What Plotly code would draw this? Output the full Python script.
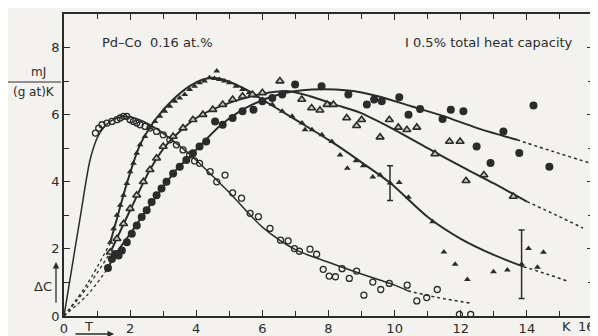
import plotly.graph_objects as go

# ---------------- data (T in K, Delta C in mJ/(g at)K) ----------------
# open circles
D_T = [0.95, 1.05, 1.15, 1.3, 1.45, 1.6, 1.7, 1.8, 1.9, 2.0, 2.1, 2.2, 2.3, 2.45, 2.6, 2.8, 3.0, 3.2, 3.4,
       3.6, 3.8, 3.95, 4.1, 4.42, 4.62, 4.87, 5.1, 5.37, 5.63, 5.88, 6.23, 6.55, 6.78, 6.97, 7.12, 7.44,
       7.64, 7.84, 8.02, 8.21, 8.41, 8.63, 8.85, 9.07, 9.34, 9.58, 9.84, 10.38, 10.67, 10.97, 11.29, 11.96, 12.3]
D_C = [5.45, 5.6, 5.7, 5.75, 5.8, 5.85, 5.9, 5.95, 5.95, 5.85, 5.8, 5.75, 5.7, 5.65, 5.6, 5.5, 5.4, 5.25, 5.1,
       4.95, 4.8, 4.62, 4.55, 4.3, 4.0, 4.2, 3.67, 3.51, 3.06, 2.96, 2.61, 2.26, 2.24, 2.01, 1.93, 1.99,
       1.84, 1.39, 1.19, 1.17, 1.41, 1.12, 1.34, 0.62, 1.01, 0.79, 0.97, 0.92, 0.45, 0.55, 0.79, 0.05, 0.05]

# filled triangles
A_T = [1.4, 1.5, 1.6, 1.7, 1.8, 1.9, 2.0, 2.1, 2.2, 2.3, 2.45, 2.6, 2.75, 2.9, 3.05, 3.2, 3.35, 3.5, 3.65,
       3.8, 3.95, 4.1, 4.25, 4.4, 4.55, 4.62, 4.7, 4.85, 5.0, 5.2, 5.4, 5.6, 5.8, 6.0, 6.3, 6.6, 6.9, 7.2,
       7.29, 7.5, 7.8, 8.1, 8.35, 8.57, 8.83, 9.05, 9.34, 9.56, 10.14, 10.42, 11.15, 11.49, 11.83, 12.2,
       12.99, 13.41, 14.05, 14.32, 14.5]
A_C = [2.2, 2.6, 3.0, 3.3, 3.6, 3.95, 4.3, 4.55, 4.85, 5.1, 5.35, 5.6, 5.8, 5.95, 6.1, 6.25, 6.4, 6.5, 6.6,
       6.75, 6.85, 6.95, 7.0, 7.1, 7.08, 7.3, 7.05, 7.0, 6.95, 6.85, 6.75, 6.65, 6.55, 6.45, 6.3, 6.1, 5.95, 5.75,
       5.55, 5.55, 5.4, 5.2, 4.8, 4.4, 4.63, 4.48, 4.14, 4.2, 3.98, 3.54, 2.81, 1.91, 1.54, 1.09,
       1.32, 1.37, 2.01, 1.45, 1.9]

# open (dotted-centre) triangles
B_T = [1.4, 1.6, 1.8, 2.0, 2.2, 2.4, 2.6, 2.8, 3.0, 3.3, 3.6, 3.9, 4.2, 4.5, 4.8, 5.1, 5.4, 5.7, 6.0, 6.53,
       7.19, 7.49, 7.74, 7.96, 8.15, 8.55, 8.85, 9.0, 9.56, 9.84, 10.11, 10.37, 10.67, 11.22, 11.66, 11.98,
       12.16, 12.7, 13.59]
B_C = [1.9, 2.3, 2.75, 3.2, 3.6, 4.0, 4.36, 4.7, 5.05, 5.35, 5.6, 5.85, 6.0, 6.15, 6.3, 6.45, 6.55, 6.6, 6.65, 7.0,
       6.45, 6.2, 6.13, 6.3, 6.3, 5.9, 5.67, 5.85, 5.33, 5.85, 5.62, 5.55, 5.62, 4.83, 5.2, 5.2,
       4.03, 4.2, 3.56]

# large filled circles
C_T = [1.33, 1.45, 1.55, 1.65, 1.75, 1.9, 2.05, 2.2, 2.35, 2.5, 2.65, 2.8, 2.95, 3.1, 3.3, 3.5, 3.7, 3.9,
       4.1, 4.3, 4.57, 4.8, 5.1, 5.4, 5.73, 6.0, 6.3, 6.6, 6.99, 7.79, 8.6, 9.16, 9.38, 9.61, 10.14, 10.42,
       10.77, 11.45, 11.7, 12.08, 12.48, 12.9, 13.29, 13.77, 14.2, 14.68]
C_C = [1.43, 1.7, 1.85, 1.8, 1.95, 2.2, 2.45, 2.7, 2.95, 3.15, 3.4, 3.6, 3.8, 4.0, 4.25, 4.45, 4.65, 4.85,
       5.05, 5.2, 5.8, 5.7, 5.9, 6.1, 6.15, 6.4, 6.5, 6.6, 6.9, 6.85, 6.6, 6.3, 6.45, 6.4, 6.52, 6.0,
       6.17, 5.87, 6.15, 6.1, 5.05, 4.56, 5.5, 4.86, 6.27, 4.45]

# fitted curves: solid parts and dotted extrapolations
curveD_T = [0, 0.2, 0.5, 0.8, 1.05, 1.4, 1.85, 2.3, 2.8, 3.3, 3.8, 4.3, 5.0, 6.0, 7.0, 8.0, 9.0, 10.0, 10.4]
curveD_C = [0, 1.2, 3.0, 4.7, 5.4, 5.8, 5.95, 5.84, 5.58, 5.22, 4.82, 4.36, 3.68, 2.65, 1.98, 1.6, 1.25, 0.92, 0.75]
dotD_T = [10.4, 11.3, 12.3]
dotD_C = [0.75, 0.55, 0.38]

curveA_T = [1.39, 1.6, 1.9, 2.3, 2.8, 3.3, 3.8, 4.2, 4.5, 4.9, 5.5, 6.0, 7.0, 8.0, 8.45, 9.0, 9.86, 11.0, 12.0, 13.0, 13.9]
curveA_C = [2.16, 2.9, 3.95, 5.1, 5.9, 6.45, 6.85, 7.05, 7.1, 7.02, 6.75, 6.45, 5.85, 5.25, 4.96, 4.58, 3.97, 2.95, 2.3, 1.82, 1.47]
dotA0_T = [0, 0.7, 1.39]
dotA0_C = [0, 0.95, 2.16]
dotA1_T = [13.9, 14.6, 15.2]
dotA1_C = [1.47, 1.25, 1.05]

curveB_T = [1.39, 2.0, 2.6, 3.1, 4.0, 5.0, 6.0, 6.8, 7.44, 8.2, 8.95, 10.0, 11.0, 12.2, 13.0, 14.0]
curveB_C = [1.87, 3.15, 4.36, 5.1, 5.9, 6.35, 6.62, 6.7, 6.55, 6.3, 6.06, 5.55, 5.0, 4.36, 3.95, 3.41]
dotB0_T = [0, 0.7, 1.39]
dotB0_C = [0, 0.85, 1.87]
dotB1_T = [14.0, 14.9, 15.7]
dotB1_C = [3.41, 3.0, 2.62]

curveC_T = [1.29, 1.6, 2.0, 2.6, 3.4, 3.8, 4.7, 5.5, 6.5, 7.5, 8.6, 9.5, 10.5, 11.5, 12.5, 13.7]
curveC_C = [1.37, 1.9, 2.45, 3.3, 4.36, 4.75, 5.65, 6.2, 6.6, 6.75, 6.72, 6.55, 6.25, 5.95, 5.6, 5.25]
dotC0_T = [0, 0.7, 1.29]
dotC0_C = [0, 0.62, 1.37]
dotC1_T = [13.7, 14.8, 15.9]
dotC1_C = [5.25, 4.9, 4.56]

# error bars (0.5 % of total heat capacity)
err_T = [9.86, 13.84]
err_C = [3.96, 1.54]
err_d = [0.52, 1.02]

x_tickvals = [0, 2, 4, 6, 8, 10, 12, 14]
x_ticktext = ["0", "2", "4", "6", "8", "10", "12", "14"]
y_tickvals = [0, 2, 4, 6, 8]
y_ticktext = ["0", "2", "4", "6", "8"]

# ---------------- figure ----------------
INK = "#2b2b2b"
PAPER = "#f3f2ee"
FONT = "DejaVu Sans"

fig = go.Figure()

def line(xs, ys, dash="solid", width=2.0):
    fig.add_trace(go.Scatter(x=xs, y=ys, mode="lines", line=dict(color=INK, width=width, dash=dash, shape="spline", smoothing=0.8),
                             hoverinfo="skip", showlegend=False, cliponaxis=False))

line(curveD_T, curveD_C, width=1.5)
line(dotD_T, dotD_C, dash="dot", width=1.5)
line(curveA_T, curveA_C, width=2.0)
line(dotA0_T, dotA0_C, dash="dot", width=1.3)
line(dotA1_T, dotA1_C, dash="dot", width=1.5)
line(curveB_T, curveB_C, width=2.0)
line(dotB0_T, dotB0_C, dash="dot", width=1.3)
line(dotB1_T, dotB1_C, dash="dot", width=1.5)
line(curveC_T, curveC_C, width=2.0)
line(dotC0_T, dotC0_C, dash="dot", width=1.3)
line(dotC1_T, dotC1_C, dash="dot", width=1.5)

fig.add_trace(go.Scatter(x=D_T, y=D_C, mode="markers", showlegend=False, cliponaxis=False,
                         marker=dict(symbol="circle-open", size=6, color=INK, line=dict(width=1.3, color=INK))))
fig.add_trace(go.Scatter(x=A_T, y=A_C, mode="markers", showlegend=False,
                         marker=dict(symbol="triangle-up", size=6, color=INK, line=dict(width=0))))
fig.add_trace(go.Scatter(x=B_T, y=B_C, mode="markers", showlegend=False,
                         marker=dict(symbol="triangle-up", size=7, color="#c9c7c1", line=dict(width=1.6, color=INK))))
fig.add_trace(go.Scatter(x=C_T, y=C_C, mode="markers", showlegend=False,
                         marker=dict(symbol="circle", size=8, color=INK, line=dict(width=0))))
fig.add_trace(go.Scatter(x=err_T, y=err_C, mode="markers", showlegend=False,
                         marker=dict(symbol="triangle-up", size=6, color=INK),
                         error_y=dict(type="data", array=err_d, color=INK, thickness=1.5, width=3)))

axis_common = dict(showgrid=False, zeroline=False, showline=True, linecolor=INK, linewidth=1.5,
                   mirror="ticks", ticks="inside", ticklen=6, tickwidth=1.3, tickcolor=INK, automargin=False,
                   tickfont=dict(family=FONT, size=13, color=INK))

fig.update_xaxes(range=[0, 16], tickvals=x_tickvals, ticktext=x_ticktext,
                 minor=dict(dtick=1, ticks="inside", ticklen=5, tickwidth=1.3, tickcolor=INK), **axis_common)
fig.update_yaxes(range=[0, 9], tickvals=y_tickvals, ticktext=y_ticktext,
                 minor=dict(dtick=1, ticks="inside", ticklen=5, tickwidth=1.3, tickcolor=INK), **axis_common)

# the page body adds an 8 px offset, so the figure is 8 px smaller and margins shifted
W, H = 590, 328
L, R, T, B = 56, 5, 6, 20
pw, ph = W - L - R, H - T - B
X0, Y1 = 64, 316  # plot-area left / bottom in window pixels

def px(x):
    return (x - X0) / pw

def py(y):
    return (Y1 - y) / ph

fnt = dict(family=FONT, size=13, color=INK)
small = dict(family=FONT, size=12, color=INK)

def label(xw, yw, text, font, ya="middle", xa="center"):
    return dict(x=px(xw), y=py(yw), xref="paper", yref="paper", text=text, showarrow=False,
                xanchor=xa, yanchor=ya, font=font)

ann = [
    dict(x=1.09, y=8.15, xref="x", yref="y", text="Pd–Co  0.16 at.%", showarrow=False, xanchor="left", font=fnt),
    dict(x=15.45, y=8.15, xref="x", yref="y", text="I 0.5% total heat capacity", showarrow=False, xanchor="right", font=fnt),
    label(38, 81, "mJ", small, "bottom"),
    label(34, 83, "(g at)K", small, "top"),
    label(43, 286, "ΔC", fnt),
    dict(x=px(56), y=py(262), xref="paper", yref="paper", text="", showarrow=True, ax=0, ay=42,
         arrowhead=2, arrowsize=1, arrowwidth=1.3, arrowcolor=INK),
    label(88, 326, "T", fnt),
    dict(x=px(114), y=py(334), xref="paper", yref="paper", text="", showarrow=True, ax=-40, ay=0,
         arrowhead=2, arrowsize=1, arrowwidth=1.3, arrowcolor=INK),
    label(566, 326, "K", fnt),
    label(597, 326, "16", fnt, "middle", "right"),
]

shapes = [dict(type="line", xref="paper", yref="paper", x0=px(8), x1=px(61), y0=py(82), y1=py(82),
               line=dict(color=INK, width=1.2))]

fig.update_layout(width=W, height=H, margin=dict(l=L, r=R, t=T, b=B),
                  paper_bgcolor=PAPER, plot_bgcolor=PAPER, showlegend=False,
                  annotations=ann, shapes=shapes, font=dict(family=FONT, color=INK))

fig.write_html("out.html")
